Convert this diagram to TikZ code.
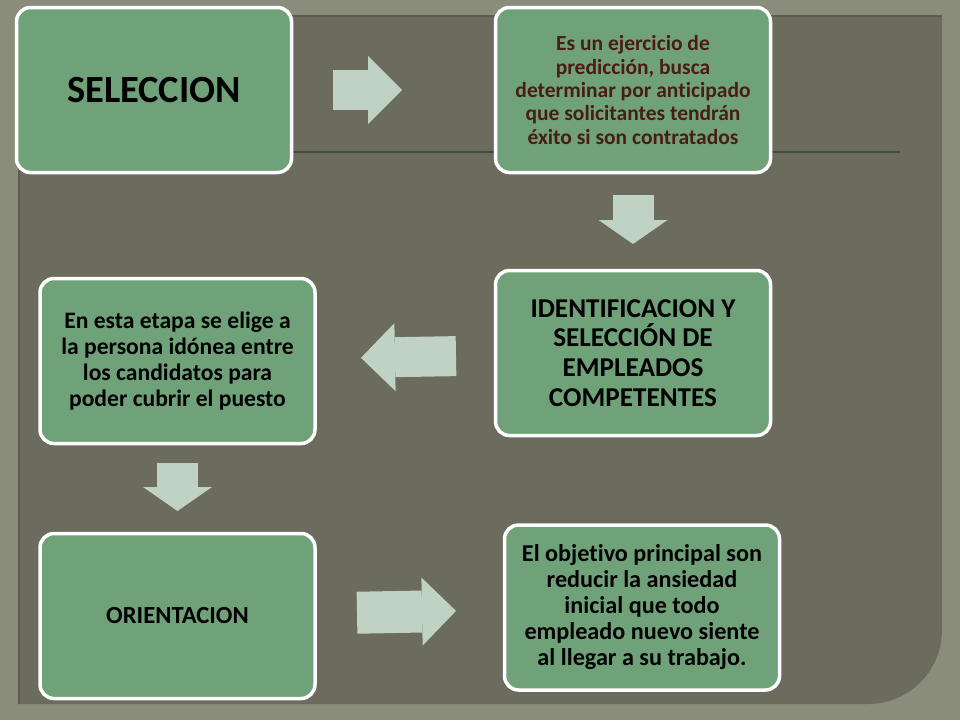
\documentclass[tikz,border=0pt]{standalone}
\usepackage{fontspec}
\setmainfont{Carlito}[Ligatures=NoCommon]
\usetikzlibrary{positioning,arrows.meta}
\definecolor{framebg}{HTML}{8A8C7C}
\definecolor{panelbg}{HTML}{6B6B5E}
\definecolor{panelshade}{HTML}{5C5C50}
\definecolor{boxfill}{HTML}{70A27A}
\definecolor{arrowfill}{HTML}{BFD2C3}
\definecolor{rulecol}{HTML}{414C3E}
\definecolor{brown}{HTML}{4B1C14}
\newcommand\bw{275pt}
\newcommand\bh{165pt}
\newcommand\gx{204pt}
\newcommand\gy{98pt}

\begin{document}
\begin{tikzpicture}[x=1pt,y=-1pt,
    box/.style={draw=white, line width=3.5pt, fill=boxfill, rounded corners=14pt,
      minimum width=\bw, minimum height=\bh, outer sep=0pt, align=center, font=\bfseries},
    flow/.style={draw=arrowfill, line width=40pt,
      -{Triangle[width=68pt, length=34pt, line width'=0pt]}},
    flowdown/.style={draw=arrowfill, line width=41pt,
      -{Triangle[width=69pt, length=24pt, line width'=0pt]}}]
  \useasboundingbox (0,0) rectangle (960,720);
  % background
  \fill[framebg] (0,0) rectangle (960,720);
  \fill[panelbg] (18,15) -- (942,15) -- (942,630)
    .. controls (942,670.9) and (908.9,704) .. (868,704) -- (18,704) -- cycle;
  \draw[panelshade, line width=2pt] (19,704) -- (19,16) -- (942,16);
  \draw[rulecol, line width=2pt] (18,152) -- (900,152);

  % boxes
  \node[box, font=\fontsize{38.5}{44}\selectfont\bfseries] (sel) at (154,90) {SELECCION};
  \node[box, right=\gx of sel, text=brown, font=\fontsize{21.5}{23.3}\selectfont\bfseries] (pred)
    {Es un ejercicio de\\predicción, busca\\determinar por anticipado\\que solicitantes tendrán\\éxito si son contratados};
  \node[box, below=\gy of pred, font=\fontsize{27.2}{29.7}\selectfont\bfseries] (ident)
    {IDENTIFICACION Y\\SELECCIÓN DE\\EMPLEADOS\\COMPETENTES};
  \node[box, left=180.5pt of ident, yshift=-8pt, font=\fontsize{23.6}{26}\selectfont\bfseries] (etapa)
    {En esta etapa se elige a\\la persona idónea entre\\los candidatos para\\poder cubrir el puesto};
  \node[box, below=90pt of etapa, font=\fontsize{24.6}{28}\selectfont\bfseries] (orient) {ORIENTACION};
  \node[box, right=189.5pt of orient, yshift=8.5pt, font=\fontsize{24.2}{26}\selectfont\bfseries] (obj)
    {El objetivo principal son\\reducir la ansiedad\\inicial que todo\\empleado nuevo siente\\al llegar a su trabajo.};

  % block arrows
  \draw[flow, shorten <=41.5pt, shorten >=93.5pt] (sel) -- (pred);
  \draw[flowdown, shorten <=22.5pt, shorten >=26.5pt] (pred) -- (ident);
  \draw[flow, shorten <=39.5pt, shorten >=46pt] (ident) -- (etapa);
  \draw[flowdown, shorten <=19.5pt, shorten >=22.5pt] (etapa) -- (orient);
  \draw[flow, line width=42pt, shorten <=42pt, shorten >=48.5pt] (orient) -- (obj);
\end{tikzpicture}
\end{document}
